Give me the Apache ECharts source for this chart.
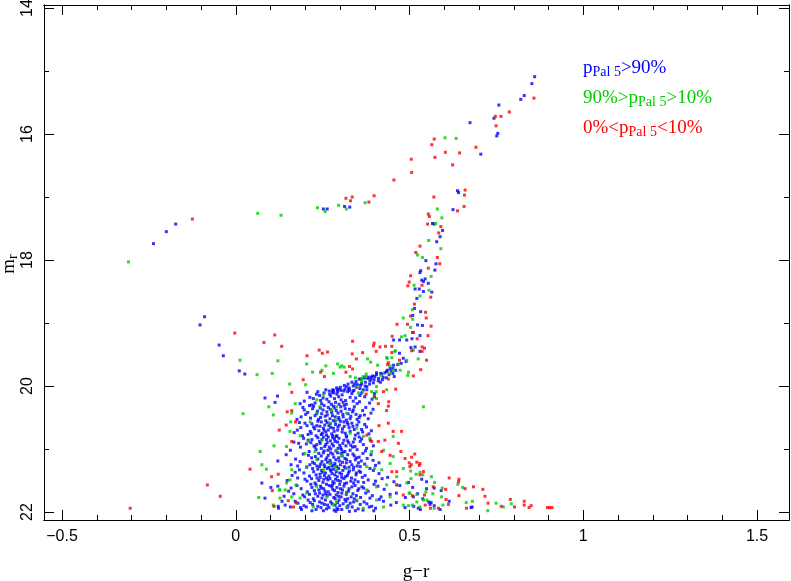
<!DOCTYPE html>
<html><head><meta charset="utf-8">
<script src="https://cdn.jsdelivr.net/npm/echarts@6/dist/echarts.min.js"></script>
<style>html,body{margin:0;padding:0;background:#fff}#c{width:791px;height:581px}</style>
</head><body><div id="c"></div>
<script>
// ---- axis ticks ----
const xMajorTicks = [-0.5, 0, 0.5, 1, 1.5];
const xMinorTicks = [-0.4, -0.3, -0.2, -0.1, 0.1, 0.2, 0.3, 0.4, 0.6, 0.7, 0.8, 0.9, 1.1, 1.2, 1.3, 1.4];
const yMajorTicks = [14, 16, 18, 20, 22];
const yMinorTicks = [15, 17, 19, 21];
const X_MIN = -0.552, X_MAX = 1.592, Y_MIN = 13.952, Y_MAX = 22.127;

// ---- legend labels ----
const legendLabels = [
  ['p', 'Pal 5', '>90%'],
  ['90%>p', 'Pal 5', '>10%'],
  ['0%<p', 'Pal 5', '<10%']
];

// ---- p > 90% (blue) ----
const blueBranch = [
[-0.237,17.74],[-0.200,17.55],[-0.173,17.43],[0.252,17.19],[0.263,17.19],[0.313,17.15],[0.328,17.16],
[-0.090,18.90],[-0.103,19.03],[-0.048,19.35],[-0.036,19.52],[0.010,19.76],[0.026,19.81],[0.084,20.19],[0.120,20.16],[0.113,20.26],
[0.860,15.09],[0.852,15.20],[0.830,15.39],[0.820,15.45],[0.757,15.54],[0.743,15.75],[0.674,15.82],[0.754,15.99],[0.751,16.03],[0.705,16.32],
[0.638,16.90],[0.641,16.93],[0.625,17.20],[0.566,17.42],[0.571,17.43],[0.595,17.53],[0.588,17.63],[0.578,17.71],[0.547,18.01],[0.576,18.06],
[0.573,18.16],[0.532,18.17],[0.530,18.20],[0.535,18.32],[0.540,18.34],[0.545,18.30],[0.554,18.37],[0.516,18.46],[0.528,18.46],[0.540,18.50],
[0.564,18.51],[0.521,18.61],[0.514,18.77],[0.509,18.88],[0.532,18.82],[0.523,19.03],[0.537,19.04],[0.509,19.15],[0.530,19.20],[0.507,19.25],
[0.492,19.27],[0.471,19.27],[0.454,19.27],[0.516,19.38],[0.504,19.39],[0.530,19.45],[0.471,19.48],[0.482,19.56],[0.490,19.61],[0.476,19.64],
[0.454,19.67],[0.444,19.72],[0.434,19.77],[0.420,19.81],[0.405,19.79],[0.400,19.85],[0.390,19.86],[0.380,19.88],[0.370,19.87],[0.360,19.89],
[0.377,20.01],[0.367,20.06],[0.456,19.85]
];
const blueTurnoff = [
[0.466,19.66],[0.452,19.72],[0.447,19.76],[0.436,19.75],[0.441,19.82],[0.429,19.79],[0.424,19.86],[0.417,19.80],[0.411,19.88],[0.405,19.82],
[0.398,19.90],[0.394,19.84],[0.386,19.92],[0.381,19.86],[0.373,19.94],[0.369,19.87],[0.362,19.96],[0.355,19.89],[0.350,19.98],[0.346,19.93],
[0.338,20.00],[0.334,19.94],[0.326,20.03],[0.323,19.97],[0.314,20.05],[0.312,19.99],[0.303,20.07],[0.301,20.02],[0.293,20.09],[0.290,20.03],
[0.282,20.11],[0.279,20.06],[0.270,20.13],[0.396,19.95],[0.410,19.92],[0.422,19.90],[0.347,20.02],[0.359,19.99],[0.327,20.07],[0.385,19.97],
[0.452,19.80],[0.433,19.87],[0.416,19.94],[0.372,20.00],[0.357,20.04],[0.337,20.08],[0.460,19.75],[0.389,19.89],[0.342,19.97],[0.318,20.01],
[0.297,20.05]
];
const blueUpperMS = [
[0.262,20.21],[0.311,20.08],[0.228,20.27],[0.345,20.19],[0.291,20.13],[0.197,20.24],[0.377,20.06],[0.254,20.11],[0.318,20.29],[0.273,20.16],
[0.236,20.09],[0.356,20.25],[0.303,20.22],[0.281,20.07],[0.213,20.18],[0.334,20.12],[0.392,20.21],[0.247,20.28],[0.296,20.17],[0.268,20.25],
[0.325,20.05],[0.241,20.15],[0.362,20.11],[0.287,20.26],[0.205,20.10],[0.349,20.28],[0.306,20.14],[0.259,20.06],[0.223,20.20],[0.371,20.17],
[0.316,20.23],[0.278,20.10],[0.340,20.07],[0.251,20.19],[0.385,20.27],[0.297,20.29],[0.232,20.13],[0.329,20.18],[0.269,20.08],[0.309,20.26],
[0.357,20.15],[0.219,20.30],[0.284,20.20],[0.399,20.12],[0.244,20.23],[0.322,20.09],[0.275,20.29],[0.338,20.24],[0.292,20.06],[0.185,20.28],
[0.247,20.44],[0.302,20.33],[0.188,20.49],[0.336,20.41],[0.271,20.52],[0.221,20.36],[0.358,20.47],[0.289,20.39],[0.254,20.31],[0.318,20.54],
[0.207,20.42],[0.374,20.34],[0.263,20.46],[0.296,20.50],[0.235,20.40],[0.327,20.37],[0.281,20.32],[0.349,20.53],[0.215,20.51],[0.308,20.45],
[0.243,20.35],[0.389,20.43],[0.276,20.42],[0.197,20.38],[0.331,20.48],[0.259,20.55],[0.312,20.31],[0.228,20.47],[0.365,20.39],[0.286,20.49],
[0.251,20.38],[0.341,20.33],[0.294,20.43],[0.176,20.53],[0.323,20.44],[0.266,20.34],[0.238,20.53],[0.355,20.50],[0.303,20.40],[0.281,20.55],
[0.212,20.31],[0.381,20.52],[0.257,20.48],[0.315,20.36],[0.233,20.44],[0.346,20.45],[0.272,20.37],[0.297,20.53],[0.201,20.45],[0.329,20.52],
[0.262,20.41],[0.309,20.49],[0.244,20.50],[0.370,20.46],[0.285,20.35],[0.224,20.32],[0.338,20.38],[0.278,20.47],[0.395,20.37],[0.193,20.34],
[0.268,20.63],[0.214,20.72],[0.321,20.58],[0.187,20.66],[0.352,20.75],[0.246,20.57],[0.293,20.70],[0.231,20.79],[0.337,20.64],[0.276,20.76],
[0.199,20.59],[0.307,20.68],[0.259,20.73],[0.371,20.61],[0.224,20.65],[0.286,20.56],[0.344,20.78],[0.252,20.67],[0.168,20.74],[0.315,20.75],
[0.272,20.60],[0.239,20.71],[0.362,20.69],[0.298,20.62],[0.208,20.77],[0.329,20.72],[0.263,20.58],[0.281,20.67],[0.383,20.76],[0.219,20.60],
[0.312,20.64],[0.246,20.77],[0.354,20.57],[0.291,20.79],[0.233,20.63],[0.177,20.70],[0.326,20.66],[0.266,20.70],[0.301,20.56],[0.256,20.62],
[0.341,20.69],[0.283,20.72],[0.205,20.63],[0.365,20.73],[0.236,20.56],[0.318,20.79],[0.273,20.66],[0.249,20.75],[0.334,20.59],[0.294,20.65],
[0.192,20.79],[0.227,20.68],[0.376,20.65],[0.261,20.78],[0.306,20.73],[0.242,20.64],[0.287,20.61],[0.349,20.62],[0.217,20.75],[0.323,20.61],
[0.279,20.79],[0.254,20.70],[0.311,20.57],[0.390,20.71],[0.183,20.58]
];
const blueMidMS = [
[0.243,20.91],[0.297,20.83],[0.186,20.97],[0.331,20.94],[0.265,21.02],[0.219,20.85],[0.358,20.88],[0.281,20.95],[0.252,20.81],[0.314,21.04],
[0.203,20.92],[0.376,20.99],[0.272,20.87],[0.302,20.98],[0.231,21.01],[0.342,20.84],[0.259,20.93],[0.167,20.89],[0.325,20.90],[0.288,21.03],
[0.236,20.82],[0.387,20.86],[0.269,20.97],[0.211,21.04],[0.349,21.01],[0.293,20.89],[0.246,20.99],[0.319,20.81],[0.277,20.92],[0.195,20.83],
[0.336,20.97],[0.261,20.85],[0.308,20.91],[0.225,20.95],[0.367,20.93],[0.284,20.84],[0.254,21.03],[0.329,21.02],[0.157,21.02],[0.299,20.94],
[0.241,20.88],[0.355,20.81],[0.273,21.00],[0.216,20.90],[0.311,20.86],[0.263,20.90],[0.343,20.96],[0.289,20.80],[0.228,20.97],[0.396,20.95],
[0.256,20.96],[0.322,20.87],[0.279,20.82],[0.181,20.91],[0.304,21.01],[0.248,20.85],[0.373,21.03],[0.294,20.99],[0.208,20.86],[0.338,20.89],
[0.266,20.81],[0.233,20.93],[0.317,20.95],[0.286,20.88],[0.362,20.84],
[0.262,21.14],[0.318,21.22],[0.194,21.08],[0.344,21.17],[0.277,21.27],[0.229,21.12],[0.371,21.24],[0.293,21.06],[0.248,21.20],[0.306,21.11],
[0.213,21.25],[0.389,21.09],[0.271,21.18],[0.326,21.29],[0.239,21.07],[0.355,21.13],[0.285,21.23],[0.172,21.16],[0.314,21.15],[0.256,21.28],
[0.337,21.08],[0.298,21.19],[0.221,21.21],[0.402,21.26],[0.266,21.10],[0.349,21.27],[0.282,21.13],[0.204,21.29],[0.329,21.20],[0.252,21.06],
[0.361,21.19],[0.291,21.28],[0.236,21.16],[0.309,21.05],[0.274,21.22],[0.159,21.25],[0.341,21.11],[0.244,21.24],[0.378,21.15],[0.301,21.25],
[0.218,21.14],[0.322,21.09],[0.268,21.29],[0.353,21.22],[0.288,21.17],[0.185,21.20],[0.259,21.17],[0.312,21.28],[0.233,21.27],[0.395,21.18],
[0.279,21.08],[0.334,21.25],[0.246,21.11],[0.366,21.07],[0.296,21.14],[0.226,21.23],[0.319,21.17],[0.264,21.21],[0.348,21.14],[0.283,21.26],
[0.209,21.10],[0.412,21.22],[0.254,21.25],[0.307,21.21],[0.241,21.28],[0.339,21.29],[0.273,21.06],[0.358,21.28],[0.178,21.27],[0.303,21.07],
[0.145,21.09],[0.121,21.19]
];
const blueLowerMS = [
[0.258,21.38],[0.311,21.47],[0.183,21.33],[0.346,21.41],[0.279,21.52],[0.224,21.36],[0.381,21.49],[0.296,21.31],[0.243,21.45],[0.327,21.35],
[0.205,21.51],[0.412,21.39],[0.268,21.43],[0.319,21.54],[0.236,21.32],[0.359,21.37],[0.287,21.48],[0.162,21.42],[0.304,21.40],[0.251,21.53],
[0.338,21.33],[0.274,21.35],[0.218,21.47],[0.437,21.45],[0.263,21.31],[0.352,21.52],[0.292,21.44],[0.196,21.38],[0.333,21.46],[0.247,21.34],
[0.372,21.42],[0.283,21.54],[0.231,21.41],[0.315,21.30],[0.271,21.47],[0.148,21.50],[0.343,21.49],[0.239,21.50],[0.396,21.34],[0.301,21.51],
[0.212,21.43],[0.324,21.38],[0.265,21.49],[0.364,21.45],[0.289,21.36],[0.178,21.46],[0.255,21.42],[0.308,21.34],[0.228,21.54],[0.455,21.52],
[0.277,21.39],[0.339,21.54],[0.249,21.37],[0.386,21.31],[0.294,21.50],[0.221,21.31],[0.316,21.44],[0.261,21.46],[0.355,21.35],[0.285,21.41],
[0.199,21.48],[0.421,21.47],[0.253,21.48],[0.305,21.45],[0.242,21.40],[0.331,21.51],[0.272,21.33],[0.368,21.53],[0.171,21.37],[0.299,21.38],
[0.234,21.46],[0.347,21.38],[0.281,21.32],[0.402,21.51],[0.321,21.42],
[0.253,21.63],[0.318,21.72],[0.176,21.58],[0.351,21.66],[0.282,21.77],[0.219,21.61],[0.393,21.74],[0.299,21.56],[0.241,21.70],[0.334,21.60],
[0.198,21.76],[0.427,21.64],[0.266,21.68],[0.322,21.79],[0.231,21.57],[0.368,21.62],[0.289,21.73],[0.152,21.67],[0.307,21.65],[0.248,21.78],
[0.343,21.58],[0.276,21.60],[0.212,21.72],[0.462,21.70],[0.261,21.56],[0.359,21.77],[0.294,21.69],[0.188,21.63],[0.337,21.71],[0.244,21.59],
[0.381,21.67],[0.286,21.79],[0.226,21.66],[0.313,21.55],[0.271,21.72],[0.139,21.75],[0.347,21.74],[0.236,21.75],[0.409,21.59],[0.303,21.76],
[0.206,21.68],[0.326,21.63],[0.263,21.74],[0.374,21.70],[0.291,21.61],[0.167,21.71],[0.257,21.67],[0.311,21.59],[0.223,21.79],[0.488,21.77],
[0.279,21.64],[0.341,21.79],[0.246,21.62],[0.398,21.56],[0.296,21.75],[0.216,21.56],[0.319,21.69],[0.259,21.71],[0.363,21.60],[0.284,21.66],
[0.193,21.73],[0.444,21.72],[0.251,21.73],[0.305,21.70],[0.239,21.65],[0.332,21.76],[0.269,21.58],[0.386,21.78],[0.159,21.62],[0.301,21.63],
[0.229,21.71],[0.354,21.63],[0.278,21.57],[0.418,21.76],[0.324,21.67],[0.509,21.61],[0.472,21.58],
[0.248,21.86],[0.321,21.93],[0.171,21.83],[0.358,21.88],[0.283,21.97],[0.214,21.85],[0.402,21.94],[0.297,21.81],[0.236,21.91],[0.339,21.84],
[0.189,21.96],[0.446,21.89],[0.264,21.89],[0.327,21.99],[0.226,21.82],[0.377,21.87],[0.291,21.94],[0.142,21.89],[0.309,21.87],[0.252,21.98],
[0.348,21.82],[0.273,21.84],[0.203,21.92],[0.487,21.93],[0.258,21.81],[0.366,21.97],[0.299,21.90],[0.179,21.86],[0.335,21.92],[0.241,21.84],
[0.391,21.91],[0.288,21.99],[0.221,21.88],[0.314,21.80],[0.268,21.93],[0.123,21.94],[0.352,21.95],[0.231,21.96],[0.425,21.83],[0.305,21.96],
[0.196,21.90],[0.329,21.86],[0.261,21.95],[0.384,21.92],[0.293,21.85],[0.157,21.92],[0.255,21.88],[0.317,21.83],[0.219,21.98],[0.531,21.96],
[0.277,21.87],[0.344,21.98],[0.245,21.93],[0.413,21.80],[0.294,21.96],[0.208,21.81],[0.323,21.90],[0.462,21.85],[0.369,21.84],[0.286,21.89],
[0.186,21.93],[0.559,21.88],[0.133,21.83],[0.397,21.98],[0.512,21.91],
[0.535,21.48],[0.549,21.52],[0.497,21.53],[0.549,21.63],[0.571,21.62],[0.591,21.66],[0.523,21.71],[0.511,21.76],[0.538,21.79],[0.555,21.84],
[0.562,21.85],[0.614,21.83],[0.571,21.90],[0.588,21.96],[0.525,21.94],[0.677,21.93],[0.680,21.92],
[0.075,21.54],[0.101,21.61],[0.121,21.59],[0.084,21.78],[0.122,21.91]
];

// ---- 90% > p > 10% (green) ----
const greenBranch = [
[-0.309,18.03],[0.063,17.26],[0.130,17.29],[0.235,17.17],[0.257,17.23],[0.296,17.13],[0.318,17.19],[0.372,17.09],[0.602,16.06],[0.634,16.07],
[0.580,17.19],[0.593,17.33],[0.575,17.42],[0.555,17.69],[0.590,17.82],[0.523,17.92],[0.537,17.96],[0.562,18.26],[0.513,18.40],[0.556,18.48],
[0.530,18.57],[0.508,18.79],[0.509,18.94],[0.503,19.07],[0.482,18.92],[0.487,19.20],[0.477,19.22],[0.511,19.43],[0.458,19.45],[0.449,19.55],
[0.525,19.57],[0.492,19.59],[0.436,19.56],[0.379,19.57],[0.388,19.62],[0.408,19.67],[0.473,19.75],[0.497,19.78],[0.495,19.83],[0.417,19.83],
[0.444,19.80],[0.404,20.09],[0.375,19.85],[0.363,19.89],[0.365,20.09],[0.398,20.18],
[0.012,19.59],[0.121,19.60],[0.061,19.82],[0.105,19.80],[0.155,19.97],[0.201,19.98],[0.204,19.65],[0.221,19.78],[0.248,19.75],[0.259,19.68],
[0.293,19.65],[0.300,19.70],[0.305,19.68],[0.312,19.70],[0.329,19.85],[0.344,19.87],[0.362,19.93],[0.434,19.55],[0.444,19.68],[0.459,19.44],
[0.469,19.65],[0.399,20.17],[0.281,19.80],[0.375,19.81],[0.405,20.01],[0.405,20.20],
[0.095,20.33],[0.021,20.44],[0.108,20.46],[0.070,21.04],[0.110,20.95],[0.075,21.25],[0.088,21.32],[0.066,21.77],[0.125,21.65]
];
const greenMS = [
[0.171,20.28],[0.161,20.43],[0.158,20.57],[0.156,20.72],[0.185,20.79],[0.209,20.88],[0.146,20.96],[0.199,21.07],[0.228,21.04],[0.247,20.86],
[0.271,20.59],[0.288,20.54],[0.290,21.02],[0.305,21.10],[0.329,20.75],[0.348,20.67],[0.367,20.80],[0.386,20.83],[0.391,21.04],[0.425,21.02],
[0.453,20.80],[0.453,21.12],[0.444,21.23],[0.482,21.31],[0.463,21.44],[0.420,21.33],[0.399,21.31],[0.377,21.28],[0.319,21.31],[0.290,21.33],
[0.286,21.28],[0.271,21.23],[0.252,21.33],[0.233,21.17],[0.204,21.28],[0.161,21.33],[0.156,21.49],[0.173,21.57],[0.146,21.54],[0.142,21.65],
[0.127,21.65],[0.161,21.76],[0.185,21.78],[0.204,21.70],[0.233,21.60],[0.262,21.76],[0.290,21.84],[0.319,21.70],[0.348,21.81],[0.377,21.65],
[0.405,21.60],[0.434,21.57],[0.463,21.57],[0.492,21.54],[0.501,21.70],[0.521,21.84],[0.540,21.81],[0.530,21.92],[0.482,21.89],[0.444,21.76],
[0.425,21.92],[0.405,21.81],[0.367,21.94],[0.319,21.92],[0.281,21.89],[0.223,21.92],[0.175,21.86],[0.127,21.78],[0.108,21.89],[0.233,20.22],
[0.252,20.14],[0.276,20.38],[0.290,20.33],[0.233,20.43],[0.348,20.01],[0.367,19.85],[0.391,20.09],[0.434,20.06],[0.453,19.75],[0.540,20.33],
[0.214,20.57],[0.319,20.43],[0.242,20.33],[0.353,20.11],
[0.503,21.35],[0.530,21.37],[0.519,21.40],[0.538,21.41],[0.563,21.44],[0.504,21.47],[0.572,21.53],[0.653,21.61],[0.639,21.56],[0.594,21.62],
[0.547,21.68],[0.521,21.72],[0.499,21.70],[0.567,21.71],[0.592,21.76],[0.550,21.81],[0.571,21.94],[0.681,21.83],[0.663,21.85],[0.749,21.86],
[0.770,21.92],[0.793,21.87],[0.725,21.98],[0.596,21.89],[0.497,21.90],[0.508,21.89]
];

// ---- 0% < p < 10% (red) ----
const redBranch = [
[0.858,15.43],[0.787,15.65],[0.763,15.72],[0.747,15.72],[0.749,15.87],[0.691,16.21],[0.644,16.30],[0.603,16.29],[0.571,16.08],[0.564,16.17],
[0.573,16.37],[0.624,16.49],[0.505,16.40],[0.506,16.61],[0.455,16.73],[0.398,16.98],[0.383,17.08],[0.660,16.89],[0.658,16.97],[0.570,17.00],
[0.657,17.15],[0.638,17.22],[0.554,17.27],[0.557,17.31],[0.552,17.43],[0.590,17.47],[0.584,17.57],[0.530,17.78],[0.518,17.88],[0.580,17.96],
[0.587,18.06],[0.554,18.13],[0.503,18.25],[0.499,18.35],[0.495,18.41],[0.536,18.40],[0.561,18.59],[0.514,18.70],[0.546,18.83],[0.548,18.92],
[0.503,18.89],[0.464,19.02],[0.494,19.02],[0.562,19.05],[0.511,19.15],[0.553,19.20],[0.450,19.21],[0.522,19.25],
[0.317,17.02],[0.335,17.00],[0.330,17.06],[-0.125,17.35],[-0.003,19.16],[0.112,19.19],[0.081,19.31],[0.132,19.37],[0.205,19.52],[0.240,19.43],
[0.249,19.48],[0.264,19.46],[0.336,19.29],[0.335,19.49],[0.347,19.57],[0.365,19.47],[0.398,19.32],[0.396,19.36],[0.415,19.38],[0.431,19.37],
[0.449,19.37],[0.404,19.45],[0.449,19.47],[0.536,19.38],[0.543,19.40],[0.506,19.44],[0.536,19.45],[0.471,19.59],[0.439,19.63],[0.437,19.66],
[0.549,19.59],[0.532,19.74],[0.511,19.84],[0.439,19.89],[0.460,20.05],[0.425,20.09],[0.375,20.13],[0.244,19.78],[0.255,19.85],[0.194,19.90],
[0.161,20.10],[0.317,19.78],[0.336,19.73],[0.327,19.69],[0.399,20.17],[0.440,20.25],[0.439,20.32],[0.434,20.39],[0.412,20.63],[0.439,20.59],
[0.148,20.41],[0.161,20.39],[0.172,20.57],[0.145,20.62],[0.125,20.70]
];
const redMS = [
[0.410,20.28],[0.161,20.88],[0.429,20.86],[0.453,20.72],[0.477,20.72],[0.468,20.91],[0.475,21.04],[0.444,21.10],[0.420,21.04],[0.377,20.78],
[0.391,20.88],[0.410,20.88],[0.449,21.36],[0.463,21.36],[0.530,21.23],[0.501,21.28],[0.530,21.41],[0.540,21.36],[0.173,21.85],[0.151,21.82],
[0.463,21.57],[0.482,21.73],[0.545,21.89],[0.166,21.92],
[-0.082,21.57],[-0.045,21.75],[0.041,21.32],[0.103,21.44],[0.105,21.66],[0.122,21.40],[0.110,21.91],[-0.304,21.94],
[0.515,21.08],[0.506,21.13],[0.499,21.22],[0.505,21.25],[0.521,21.21],[0.528,21.26],[0.487,21.15],[0.614,21.46],[0.642,21.48],[0.641,21.52],
[0.684,21.60],[0.711,21.64],[0.660,21.63],[0.568,21.60],[0.604,21.64],[0.717,21.75],[0.642,21.74],[0.605,21.80],[0.726,21.86],[0.664,21.94],
[0.612,21.88],[0.790,21.80],[0.830,21.83],[0.830,21.89],[0.764,21.91],[0.802,21.92],[0.850,21.90],[0.844,21.93],[0.897,21.93],[0.903,21.93],
[0.910,21.93],[0.543,21.73],[0.508,21.74],[0.560,21.94],[0.583,21.94]
];

const BLUE = '#0000ff', GREEN = '#00cc00', RED = '#ff0000';
const blue = blueBranch.concat(blueTurnoff, blueUpperMS, blueMidMS, blueLowerMS);
const green = greenBranch.concat(greenMS);
const red = redBranch.concat(redMS);

const chart = echarts.init(document.getElementById('c'), null, {renderer: 'canvas', width: 791, height: 581});
const line = {color: '#000', width: 1};
const tickFont = {fontFamily: 'Liberation Sans', fontSize: 16, color: '#000'};
const fmt = v => (v < 0 ? '\u2212' + Math.abs(v) : String(v));
function xAx(pos, ticks, len, labels) {
  return {type: 'value', min: X_MIN, max: X_MAX, position: pos, gridIndex: 0,
    axisLine: {show: true, lineStyle: line, onZero: false},
    axisTick: {show: true, inside: true, length: len, customValues: ticks, lineStyle: line},
    axisLabel: labels ? Object.assign({show: true, customValues: ticks, formatter: fmt, margin: 9}, tickFont) : {show: false},
    splitLine: {show: false}, minorTick: {show: false}};
}
function yAx(pos, ticks, len, labels) {
  return {type: 'value', min: Y_MIN, max: Y_MAX, inverse: true, position: pos, gridIndex: 0,
    axisLine: {show: true, lineStyle: line, onZero: false},
    axisTick: {show: true, inside: true, length: len, customValues: ticks, lineStyle: line},
    axisLabel: labels ? Object.assign({show: true, customValues: ticks, rotate: 90, margin: 8}, tickFont) : {show: false},
    splitLine: {show: false}, minorTick: {show: false}};
}
function legendText(parts, color, top) {
  return {type: 'text', x: 583, y: top, silent: true,
    style: {text: '{a|' + parts[0] + '}{s|' + parts[1] + '}{a|' + parts[2] + '}',
      align: 'left', verticalAlign: 'top', fill: color,
      rich: {
        a: {fontFamily: 'Liberation Serif', fontSize: 19, lineHeight: 20, verticalAlign: 'top', fill: color},
        s: {fontFamily: 'Liberation Serif', fontSize: 14, lineHeight: 8, verticalAlign: 'bottom', fill: color}
      }}};
}
const sym = {type: 'scatter', symbol: 'rect', symbolSize: 3, silent: true, animation: false, xAxisIndex: 0, yAxisIndex: 0};
chart.setOption({
  animation: false,
  backgroundColor: '#fff',
  grid: {left: 44, top: 5, width: 745, height: 515, containLabel: false, outerBoundsMode: 'none'},
  xAxis: [xAx('bottom', xMajorTicks, 10, true), xAx('bottom', xMinorTicks, 5, false),
          xAx('top', xMajorTicks, 10, false), xAx('top', xMinorTicks, 5, false)],
  yAxis: [yAx('left', yMajorTicks, 10, true), yAx('left', yMinorTicks, 5, false),
          yAx('right', yMajorTicks, 10, false), yAx('right', yMinorTicks, 5, false)],
  series: [
    Object.assign({name: 'blue', data: blue, itemStyle: {color: BLUE}}, sym),
    Object.assign({name: 'green', data: green, itemStyle: {color: GREEN}}, sym),
    Object.assign({name: 'red', data: red, itemStyle: {color: RED}}, sym)
  ],
  graphic: [
    {type: 'text', x: 416, y: 572, silent: true,
      style: {text: 'g\u2212r', fontFamily: 'Liberation Serif', fontSize: 19, fill: '#000', align: 'center', verticalAlign: 'middle'}},
    {type: 'text', x: 10, y: 264, rotation: Math.PI / 2, silent: true,
      style: {text: '{m|m}{s|r}', align: 'center', verticalAlign: 'middle', fill: '#000',
        rich: {m: {fontFamily: 'Liberation Serif', fontSize: 19, lineHeight: 20, verticalAlign: 'top', fill: '#000'},
               s: {fontFamily: 'Liberation Serif', fontSize: 14, lineHeight: 10, verticalAlign: 'bottom', fill: '#000'}}}},
    legendText(legendLabels[0], BLUE, 59),
    legendText(legendLabels[1], GREEN, 89),
    legendText(legendLabels[2], RED, 119)
  ]
});
</script></body></html>
